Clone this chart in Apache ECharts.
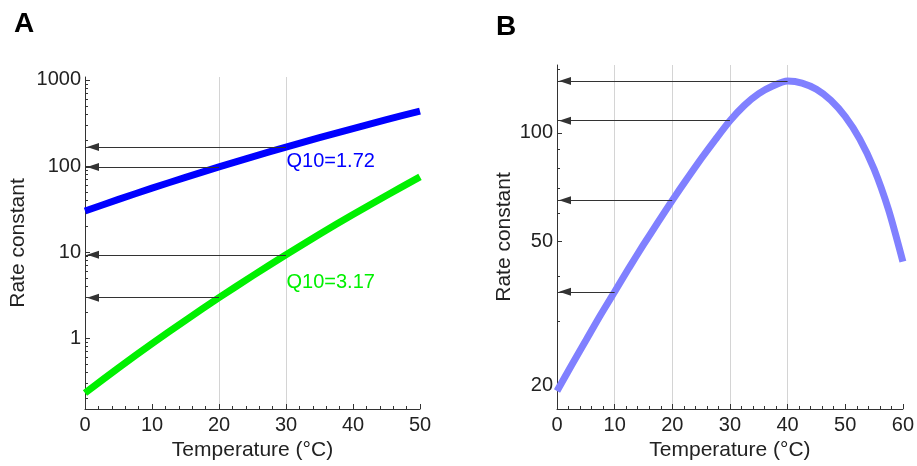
<!DOCTYPE html>
<html>
  <head>
    <meta charset="utf-8" />
    <title>Rate constant vs temperature</title>
    <script src="https://cdn.jsdelivr.net/npm/echarts@6/dist/echarts.min.js"></script>
  </head>
  <body style="margin:0">
    <div id="container" style="width:917px;height:466px;"></div>

    <script type="text/javascript">
    // panel A: two Arrhenius curves, panel B: enzyme curve with optimum
    var tempsA = [0, 5, 10, 15, 20, 25, 30, 35, 40, 45, 50];
    var rateLowQ10 = [30.0, 40.9, 55.3, 73.8, 97.6, 127.9, 166, 213.7, 272.9, 345.9, 435];
    var rateHighQ10 = [0.23, 0.451, 0.862, 1.61, 2.95, 5.29, 9.3, 16.1, 27.3, 45.5, 74.8];
    var tempsB = [0, 2.5, 5, 7.5, 10, 12.5, 15, 17.5, 20, 22.5, 25, 27.5, 30,
                  32.5, 35, 37.5, 40, 42.5, 45, 47.5, 50, 52.5, 55, 57.5, 60];
    var rateB = [19.3, 22.7, 26.6, 31.2, 36.3, 42.3, 49, 56.5, 65, 74.4, 84.7, 95.9, 108,
                 119.1, 128.3, 134.9, 139, 137.3, 131.9, 123, 110.9, 96.2, 79.4, 61.3, 44];

    var arrowTempsA = [20, 30];
    var arrowTempsB = [10, 20, 30, 40];
    var gridTempsA = [20, 30];
    var gridTempsB = [10, 20, 30, 40];

    var yLabelsA = [1, 10, 100, 1000];
    var yMinorA = [0.2, 0.3, 0.4, 0.5, 0.6, 0.7, 0.8, 0.9,
                   2, 3, 4, 5, 6, 7, 8, 9,
                   20, 30, 40, 50, 60, 70, 80, 90,
                   200, 300, 400, 500, 600, 700, 800, 900];
    var yLabelsB = [20, 50, 100];
    var yMinorB = [30, 40, 60, 70, 80, 90, 150];

    var q10Texts = ['Q10=1.72', 'Q10=3.17'];
    var q10Anchors = [[30, 114], [30, 4.45]];

    var FONT = '"Liberation Sans", Arial, sans-serif';
    var INK = '#222';

    function pairs(xs, ys) {
        return xs.map(function (x, i) { return [x, ys[i]]; });
    }

    // horizontal arrows from the curve back to the y axis
    function arrows(xs, ys, at) {
        return at.map(function (t) {
            var y = ys[xs.indexOf(t)];
            return [{ coord: [t, y] }, { coord: [0, y] }];
        });
    }

    function arrowLine(xs, ys, at) {
        return {
            silent: true,
            animation: false,
            symbol: ['none', 'triangle'],
            symbolSize: [8, 12],
            symbolOffset: [0, [0, 8]],
            lineStyle: { color: '#333', width: 1, type: 'solid' },
            itemStyle: { color: '#111' },
            label: { show: false },
            emphasis: { disabled: true },
            data: arrows(xs, ys, at)
        };
    }

    function q10Mark(i, color) {
        return {
            silent: true,
            animation: false,
            symbol: 'circle',
            symbolSize: 1,
            itemStyle: { color: 'rgba(0,0,0,0)' },
            label: {
                show: true, position: 'right', distance: 0,
                formatter: q10Texts[i], color: color, fontSize: 20, fontFamily: FONT
            },
            data: [{ coord: q10Anchors[i] }]
        };
    }

    function tempAxis(grid, max) {
        return {
            gridIndex: grid, type: 'value', position: 'bottom', min: 0, max: max, interval: 10,
            axisLine: { onZero: false, lineStyle: { color: '#333', width: 1 } },
            axisTick: { inside: true, length: 5, lineStyle: { color: '#333' } },
            minorTick: { show: true, splitNumber: 5, length: 3, lineStyle: { color: '#333' } },
            axisLabel: { fontSize: 20, color: INK, margin: 6, fontFamily: FONT },
            splitLine: { show: false },
            name: 'Temperature (°C)', nameLocation: 'middle', nameGap: 31,
            nameTextStyle: { fontSize: 21, color: INK, fontFamily: FONT }
        };
    }

    // only used for the light vertical grid lines
    function gridAxis(grid, max, at) {
        return {
            gridIndex: grid, type: 'value', position: 'top', min: 0, max: max,
            axisLine: { show: false, onZero: false },
            axisTick: { show: false, customValues: at },
            axisLabel: { show: false },
            splitLine: { show: true, lineStyle: { color: '#d4d4d4', width: 1 } }
        };
    }

    function rateAxis(grid, min, max, labels, gap) {
        return {
            gridIndex: grid, type: 'log', logBase: 10, position: 'left', min: min, max: max,
            axisLine: { onZero: false, lineStyle: { color: '#333', width: 1 } },
            axisTick: { inside: true, length: 5, customValues: labels, lineStyle: { color: '#333' } },
            axisLabel: {
                customValues: labels, fontSize: 20, color: INK, margin: 4, fontFamily: FONT,
                formatter: function (v) { return String(Math.round(v * 1000) / 1000); }
            },
            splitLine: { show: false },
            name: 'Rate constant', nameLocation: 'middle', nameGap: gap,
            nameTextStyle: { fontSize: 21, color: INK, fontFamily: FONT }
        };
    }

    function minorRateAxis(grid, min, max, at) {
        return {
            gridIndex: grid, type: 'log', logBase: 10, position: 'left', min: min, max: max,
            axisLine: { show: false, onZero: false },
            axisTick: { inside: true, length: 3, customValues: at, lineStyle: { color: '#333' } },
            axisLabel: { show: false },
            splitLine: { show: false }
        };
    }

    var myChart = echarts.init(document.getElementById('container'));
    var option = {
        animation: false,
        textStyle: { fontFamily: FONT },
        graphic: [
            { type: 'text', left: 14, top: 10, style: { text: 'A', font: 'bold 28px ' + FONT, fill: '#000' } },
            { type: 'text', left: 496, top: 13, style: { text: 'B', font: 'bold 28px ' + FONT, fill: '#000' } }
        ],
        grid: [
            { left: 85, top: 77, right: 497, bottom: 54 },
            { left: 557, top: 65, right: 13, bottom: 55 }
        ],
        xAxis: [
            tempAxis(0, 50),
            gridAxis(0, 50, gridTempsA),
            tempAxis(1, 60),
            gridAxis(1, 60, gridTempsB)
        ],
        yAxis: [
            rateAxis(0, 0.15, 1083, yLabelsA, 56),
            minorRateAxis(0, 0.15, 1083, yMinorA),
            rateAxis(1, 17.2, 154, yLabelsB, 42),
            minorRateAxis(1, 17.2, 154, yMinorB)
        ],
        series: [
            {
                type: 'line', xAxisIndex: 0, yAxisIndex: 0,
                data: pairs(tempsA, rateLowQ10),
                symbol: 'none', smooth: 0.25, z: 3,
                lineStyle: { color: '#0000ff', width: 7, cap: 'butt' },
                markLine: arrowLine(tempsA, rateLowQ10, arrowTempsA),
                markPoint: q10Mark(0, '#0000ff')
            },
            {
                type: 'line', xAxisIndex: 0, yAxisIndex: 0,
                data: pairs(tempsA, rateHighQ10),
                symbol: 'none', smooth: 0.25, z: 3,
                lineStyle: { color: '#00f000', width: 7, cap: 'butt' },
                markLine: arrowLine(tempsA, rateHighQ10, arrowTempsA),
                markPoint: q10Mark(1, '#00f000')
            },
            {
                type: 'line', xAxisIndex: 2, yAxisIndex: 2,
                data: pairs(tempsB, rateB),
                symbol: 'none', smooth: 0.25, z: 3,
                lineStyle: { color: '#8080ff', width: 7, cap: 'butt' },
                markLine: arrowLine(tempsB, rateB, arrowTempsB)
            }
        ]
    };
    myChart.setOption(option);

    window.addEventListener('resize', myChart.resize);
    </script>
  </body>
</html>
